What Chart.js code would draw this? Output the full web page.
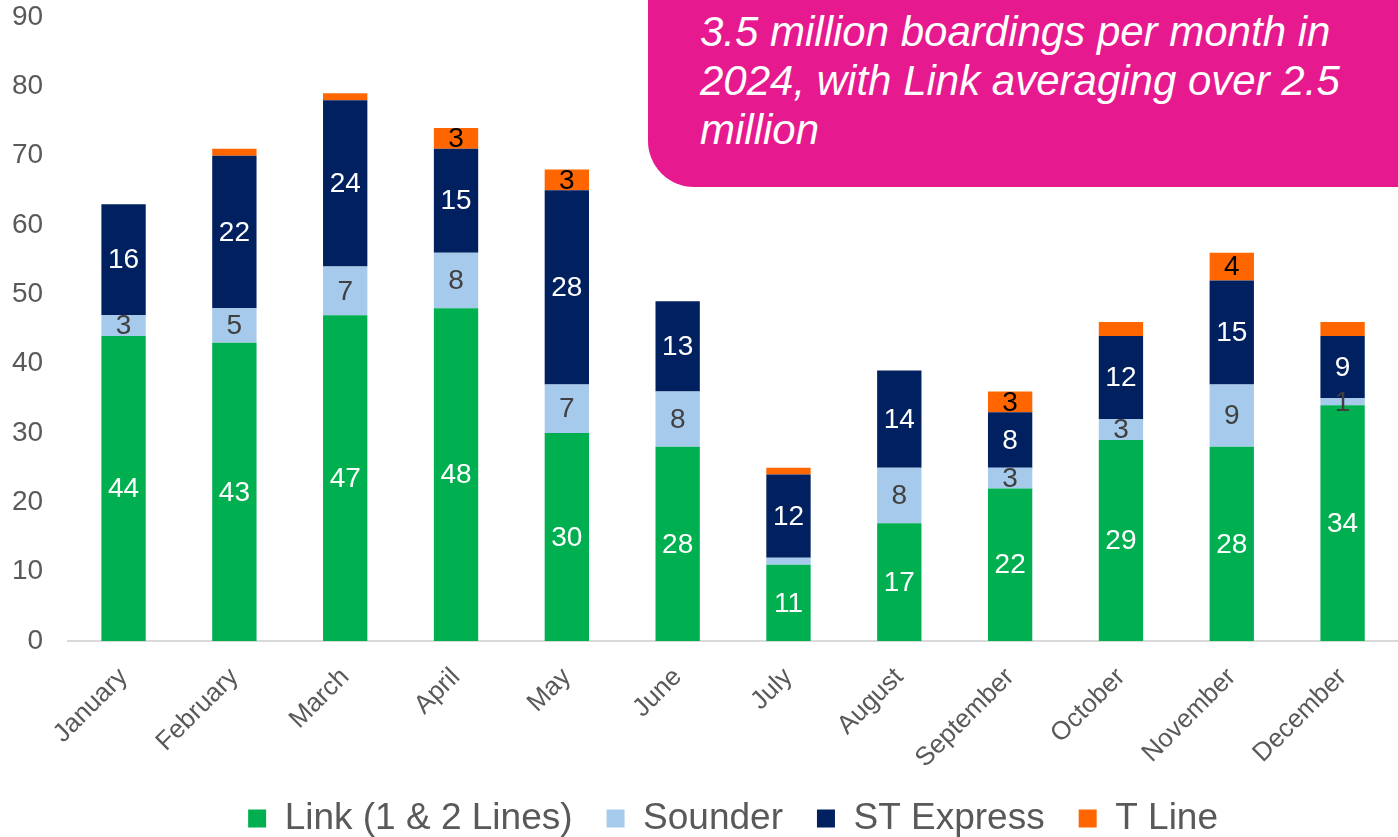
<!DOCTYPE html>
<html>
<head>
<meta charset="utf-8">
<script src="https://cdn.jsdelivr.net/npm/chart.js@4"></script>
<style>
  html, body { margin: 0; padding: 0; background: #fff; overflow: hidden; }
  #wrap { position: relative; width: 1398px; height: 837px; }
  #callout {
    position: absolute; left: 648px; top: -50px; width: 800px; height: 237px;
    background: #E6198F; border-radius: 46px; box-sizing: border-box;
    padding: 57px 0 0 52px; color: #fff; font-family: "Liberation Sans", Arial, sans-serif;
    font-style: italic; font-size: 42px; line-height: 49px;
  }
</style>
</head>
<body>
<div id="wrap">
  <canvas id="chart"></canvas>
  <div id="callout">3.5 million boardings per month in<br>2024, with Link averaging over 2.5<br>million</div>
</div>
<script>
const months = ['January', 'February', 'March', 'April', 'May', 'June', 'July', 'August', 'September', 'October', 'November', 'December'];
const linkValues = [44, 43, 47, 48, 30, 28, 11, 17, 22, 29, 28, 34];
const sounderValues = [3, 5, 7, 8, 7, 8, 1, 8, 3, 3, 9, 1];
const stExpressValues = [16, 22, 24, 15, 28, 13, 12, 14, 8, 12, 15, 9];
const tLineValues = [0, 1, 1, 3, 3, 0, 1, 0, 3, 2, 4, 2];
const yTicks = [0, 10, 20, 30, 40, 50, 60, 70, 80, 90];

// small segments only get a label if listed here
const forcedLabels = [['Sounder', 'December']];

const FONT = '"Liberation Sans", Arial, sans-serif';

const segmentLabels = {
  id: 'segmentLabels',
  afterDatasetsDraw(chart) {
    const ctx = chart.ctx;
    ctx.save();
    ctx.font = '28px ' + FONT;
    ctx.textAlign = 'center';
    ctx.textBaseline = 'middle';
    chart.data.datasets.forEach((ds, di) => {
      const meta = chart.getDatasetMeta(di);
      meta.data.forEach((bar, i) => {
        const v = ds.data[i];
        const forced = forcedLabels.some(f => f[0] === ds.label && f[1] === months[i]);
        if (v < 3 && !forced) return;
        ctx.fillStyle = ds.labelColor;
        ctx.fillText(String(v), bar.x, (bar.y + bar.base) / 2 + 1);
      });
    });
    ctx.restore();
  }
};

new Chart(document.getElementById('chart'), {
  type: 'bar',
  data: {
    labels: months,
    datasets: [
      { label: 'Link (1 & 2 Lines)', data: linkValues, backgroundColor: '#00B050', labelColor: '#ffffff' },
      { label: 'Sounder', data: sounderValues, backgroundColor: '#A6CAEC', labelColor: '#404040' },
      { label: 'ST Express', data: stExpressValues, backgroundColor: '#002060', labelColor: '#ffffff' },
      { label: 'T Line', data: tLineValues, backgroundColor: '#FF6600', labelColor: '#000000' }
    ]
  },
  options: {
    responsive: true,
    maintainAspectRatio: false,
    animation: false,
    datasets: { bar: { barPercentage: 0.4, categoryPercentage: 1, borderWidth: 0 } },
    layout: { padding: { top: 0, right: 0, left: -13, bottom: 0 } },
    scales: {
      x: {
        stacked: true,
        afterFit: (scale) => { scale.height = 125; },
        grid: { display: false, drawTicks: false },
        border: { color: '#D9D9D9', width: 2 },
        ticks: { color: '#595959', font: { family: FONT, size: 26 }, minRotation: 45, maxRotation: 45, padding: 21 }
      },
      y: {
        stacked: true,
        min: 0,
        max: 90,
        afterBuildTicks: (scale) => { scale.ticks = yTicks.map(v => ({ value: v })); },
        afterFit: (scale) => { scale.paddingTop = 17; },
        grid: { display: false, drawTicks: false },
        border: { display: false },
        ticks: { color: '#595959', font: { family: FONT, size: 28 }, padding: 25 }
      }
    },
    plugins: {
      legend: {
        position: 'bottom',
        fullSize: false,
        maxHeight: 71,
        labels: { color: '#595959', font: { family: FONT, size: 37 }, boxWidth: 18, boxHeight: 18, padding: 34 }
      },
      tooltip: { enabled: false }
    }
  },
  plugins: [segmentLabels]
});
</script>
</body>
</html>
